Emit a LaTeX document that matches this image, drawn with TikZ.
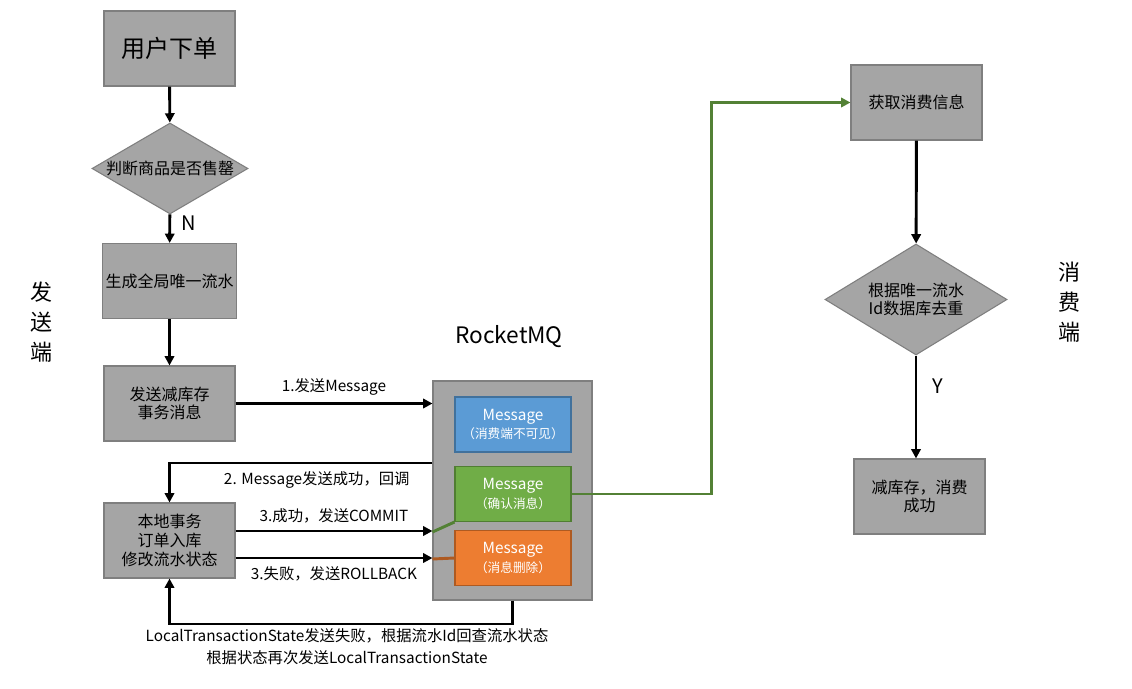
\documentclass[tikz,border=0pt]{standalone}
\usepackage{fontspec}
\setmainfont{Noto Sans CJK SC}
\usetikzlibrary{positioning, shapes.geometric, arrows.meta}
\definecolor{boxgray}{HTML}{A5A5A5}
\definecolor{boxline}{HTML}{7F7F7F}
\definecolor{msgblue}{HTML}{5B9BD5}
\definecolor{blueline}{HTML}{41719C}
\definecolor{msggreen}{HTML}{70AD47}
\definecolor{greenline}{HTML}{507E32}
\definecolor{msgorange}{HTML}{ED7D31}
\definecolor{orangeline}{HTML}{AE5A21}
\definecolor{pathgreen}{HTML}{538135}

\begin{document}
\begin{tikzpicture}[x=0.75pt, y=-0.75pt,
      font=\fontsize{12}{14}\selectfont,
      box/.style={rectangle, draw=boxline, fill=boxgray, thick, align=center,
        minimum width=98.25pt, minimum height=56.25pt, inner sep=2pt},
      decision/.style={diamond, draw=boxline, fill=boxgray, thick, align=center,
        minimum width=117pt, minimum height=68.25pt, inner sep=0pt, aspect=1.7},
      msg/.style={rectangle, thick, align=center, text=white,
        minimum width=87pt, minimum height=41.25pt, inner sep=1pt,
        font=\fontsize{11.5}{14}\selectfont},
      flow/.style={line width=2.2pt, -{Triangle[length=7pt,width=7pt]}},
      label/.style={font=\fontsize{11.5}{13}\selectfont, inner sep=2pt}]
      \useasboundingbox (0,0) rectangle (1132,689);
      % sender side
      \node[box, font=\fontsize{18}{20}\selectfont] (order) at (169.5,48.5) {用户下单};
      \node[decision] (soldout) at (170,168.5) {判断商品是否售罄};
      \node[box] (serial) at (169.5,281) {生成全局唯一流水};
      \node[box] (send) at (169.5,403.5) {发送减库存\\事务消息};
      \node[box] (local) at (169.5,540.5) {本地事务\\订单入库\\修改流水状态};
      \node[font=\fontsize{16.5}{22.5}\selectfont, align=center] (sender) at (42,322) {发\\送\\端};
      \path[flow] (order) edge (soldout);
      \path[flow] (soldout) edge node[right=4pt, pos=0.3, font=\fontsize{15}{18}\selectfont] {N} (serial);
      \path[flow] (serial) edge (send);
      % RocketMQ
      \node[rectangle, draw=boxline, fill=boxgray, thick, minimum width=119.25pt,
        minimum height=164.25pt] (mq) at (512.5,490.5) {};
      \node[font=\fontsize{17}{20}\selectfont] (mqtitle) at (509,337) {RocketMQ};
      \node[msg, fill=msgblue, draw=blueline] (half) at (513,424.5) {Message\\{\fontsize{9.5}{12}\selectfont （消费端不可见）}};
      \node[msg, fill=msggreen, draw=greenline] (commit) at (513,494) {Message\\{\fontsize{9.5}{12}\selectfont （确认消息）}};
      \node[msg, fill=msgorange, draw=orangeline] (rollback) at (513,558) {Message\\{\fontsize{9.5}{12}\selectfont （消息删除）}};
      \draw[flow] (send.east) -- node[label, above=3pt] {1.发送Message} (send.east -| mq.west);
      \draw[flow] (mq.west |- 0,463) -| node[label, below=3pt, pos=0.22] {2. Message发送成功，回调} (local.north);
      \draw[flow] (local.east |- 0,531) -- node[label, above=3pt] {3.成功，发送COMMIT} (mq.west |- 0,531);
      \draw[flow] (local.east |- 0,558) -- node[label, below=3pt] {3.失败，发送ROLLBACK} (mq.west |- 0,558);
      \draw[pathgreen, line width=2.2pt] (mq.west |- 0,532) -- (commit.south west);
      \draw[orangeline, line width=2.2pt] (mq.west |- 0,559) -- (rollback.west);
      \draw[flow] (mq.south) -- (mq.south |- 0,624) -| (local.south);
      \node[label, align=center, font=\fontsize{11.5}{16.5}\selectfont] (recheck) at (347,647)
        {LocalTransactionState发送失败，根据流水Id回查流水状态\\根据状态再次发送LocalTransactionState};
      % consumer side
      \node[box] (fetch) at (916.5,102.5) {获取消费信息};
      \node[decision, minimum width=136.5pt, minimum height=83.25pt, aspect=1.64] (dedup) at (916,299.5) {根据唯一流水\\Id数据库去重};
      \node[box] (done) at (919.5,496.5) {减库存，消费\\成功};
      \node[font=\fontsize{16.5}{22.5}\selectfont, align=center] (consumer) at (1069,302) {消\\费\\端};
      \draw[pathgreen, line width=2.2pt, -{Triangle[length=7pt,width=7pt]}]
        (commit.east) -- ++(140,0) |- (fetch.west);
      \path[flow] (fetch) edge (dedup);
      \draw[flow] (dedup.south) -- node[right=8pt, pos=0.3, font=\fontsize{15}{18}\selectfont] {Y} (dedup.south |- done.north);
  \end{tikzpicture}
\end{document}
